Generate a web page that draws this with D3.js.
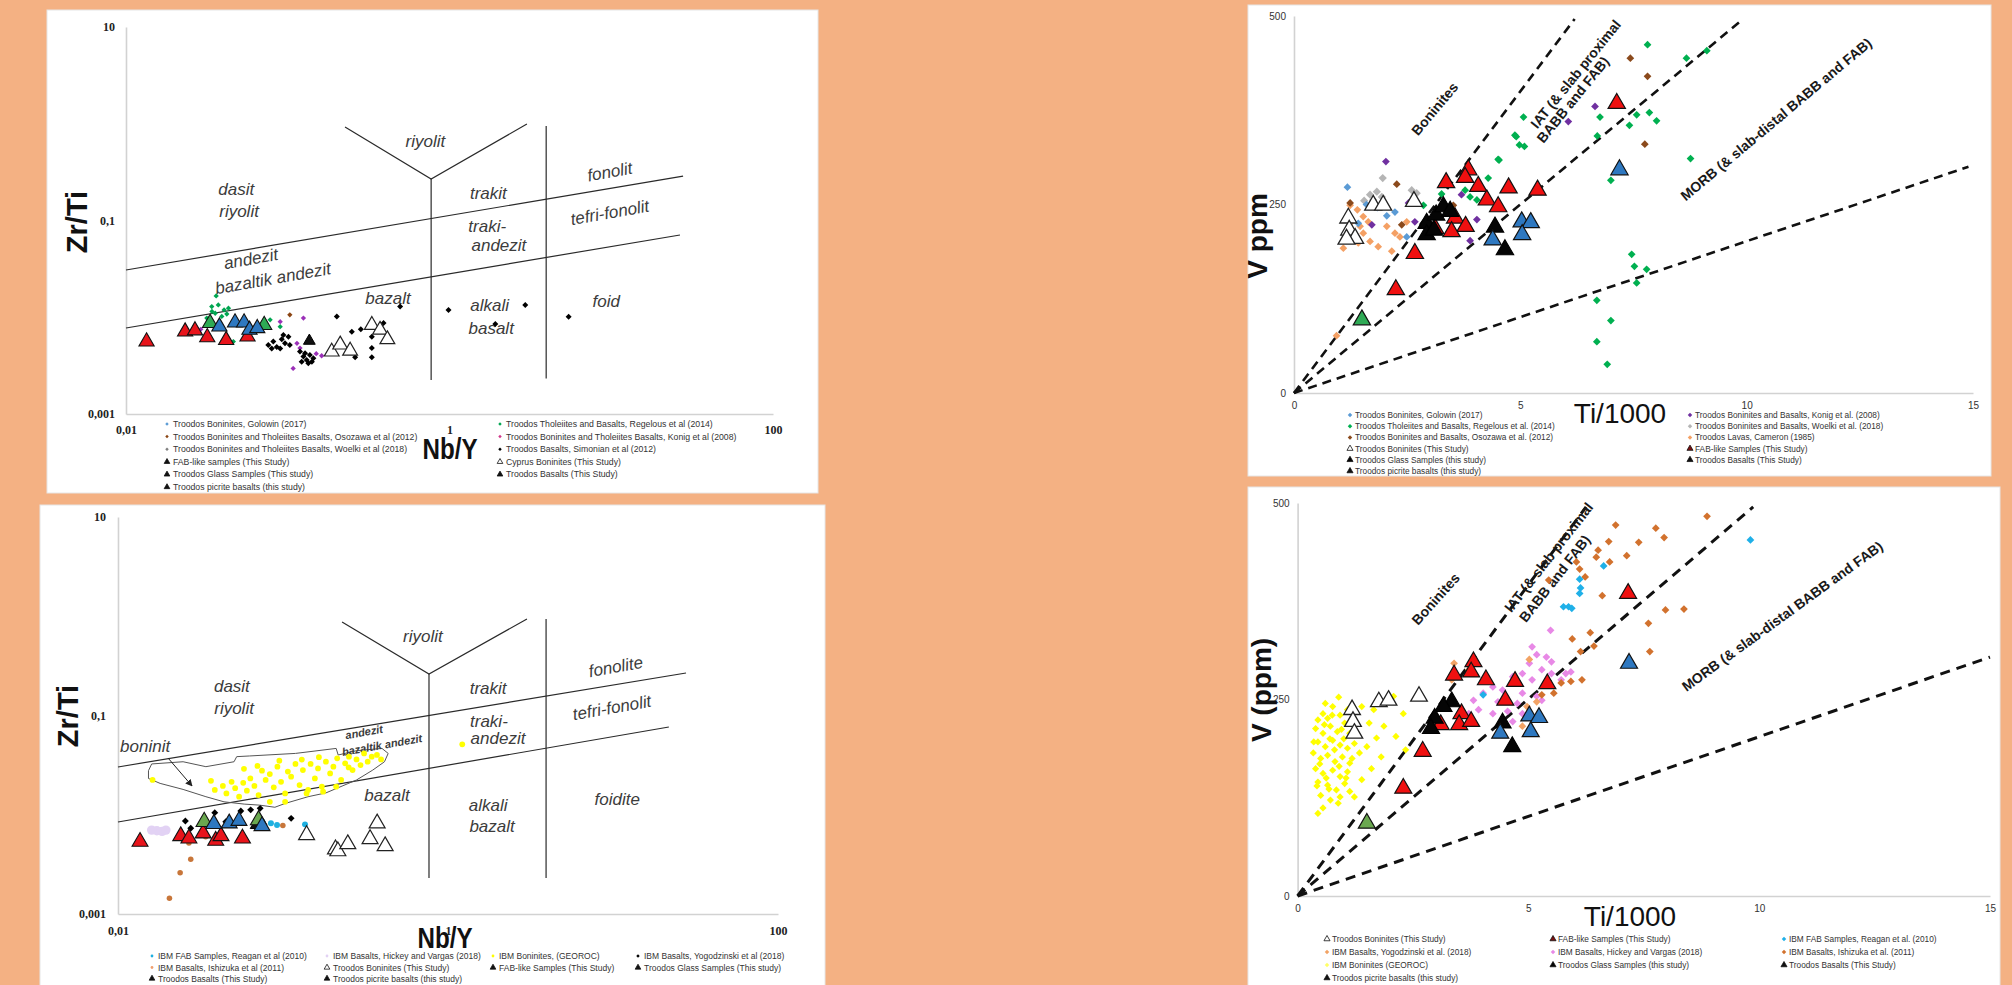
<!DOCTYPE html>
<html><head><meta charset="utf-8">
<script src="https://cdn.jsdelivr.net/npm/d3@7"></script>
<style>body{margin:0;background:#F4B183;}svg{display:block}</style>
</head><body>
<script>
// ================= DATA =================
// ---- Panel A (top-left): Zr/Ti vs Nb/Y ----
const p1XTicks = [0.01, 1, 100];
const p1XTickLabels = ["0,01", "1", "100"];
const p1YTicks = [0.001, 0.1, 10];
const p1YTickLabels = ["0,001", "0,1", "10"];
const p1Fields = [
  [[0.01,0.0308],[27.8,0.288]],
  [[0.01,0.00774],[26.6,0.0708]],
  [[0.226,0.925],[0.77,0.268],[3.01,0.993]],
  [[0.77,0.268],[0.77,0.00224]],
  [[3.96,0.948],[3.96,0.00233]]
];
const p1Notes = [
  {t:"riyolit",x:0.71,y:0.65},{t:"dasit",x:0.048,y:0.207},{t:"riyolit",x:0.050,y:0.125},
  {t:"trakit",x:1.74,y:0.192},{t:"fonolit",x:9.8,y:0.317},{t:"traki-",x:1.71,y:0.0877},
  {t:"andezit",x:2.02,y:0.0558},{t:"tefri-fonolit",x:9.8,y:0.120},{t:"andezit",x:0.0593,y:0.040},
  {t:"bazaltik andezit",x:0.081,y:0.0250},{t:"bazalt",x:0.417,y:0.0155},{t:"alkali",x:1.77,y:0.0131},
  {t:"basalt",x:1.81,y:0.00774},{t:"foid",x:9.3,y:0.0144}
];
const p1Golowin = [];
const p1Osozawa = [[0.103,0.0106]];
const p1Woelki = [];
const p1Regelous = [[0.0361,0.0166],[0.0339,0.0129],[0.0372,0.0134],[0.0404,0.0119],[0.0430,0.0124],[0.0356,0.0110],[0.0391,0.0102],[0.0316,0.0098],[0.0461,0.0056],[0.0778,0.0094],[0.0898,0.0080],[0.0340,0.0115],[0.0420,0.0108]];
const p1Konig = [[0.0898,0.0090],[0.125,0.0098],[0.108,0.00296],[0.162,0.0040],[0.191,0.0048],[0.119,0.0048],[0.114,0.00538],[0.0290,0.0075],[0.150,0.0042]];
const p1Simonian = [[0.0758,0.00518],[0.0814,0.0056],[0.0855,0.00493],[0.0918,0.00591],[0.0962,0.00538],[0.101,0.0063],[0.103,0.00518],[0.0898,0.00474],[0.0796,0.00474],[0.094,0.00656],
  [0.119,0.00442],[0.125,0.00392],[0.131,0.00362],[0.137,0.00407],[0.144,0.00377],[0.122,0.00347],[0.134,0.00334],[0.128,0.00425],[0.141,0.00347],
  [0.201,0.0102],[0.249,0.0071],[0.283,0.0075],[0.331,0.0063],[0.331,0.0048],[0.331,0.00385],[0.261,0.00385],[0.391,0.0087],[0.495,0.0129],[0.986,0.0119],[2.94,0.0134],[1.92,0.0085],[5.45,0.0101]];
const p1FAB = [[0.0134,0.0056],[0.0232,0.0071],[0.0267,0.0073],[0.0318,0.0062],[0.0416,0.0058],[0.0564,0.0063]];
const p1Picrite = [[0.0331,0.0087],[0.0715,0.0083]];
const p1Basalts = [[0.0378,0.0080],[0.0472,0.0088],[0.0537,0.0088],[0.0580,0.0074],[0.0648,0.0077]];
const p1Glass = [[0.136,0.0057]];
const p1Cyprus = [[0.187,0.0044],[0.211,0.0052],[0.243,0.0045],[0.331,0.0083],[0.372,0.0074],[0.413,0.0059]];

// ---- Panel C (bottom-left): Zr/Ti vs Nb/Y, IBM ----
const p3XTicks = [0.01, 1, 100];
const p3XTickLabels = ["0,01", "1", "100"];
const p3YTicks = [0.001, 0.1, 10];
const p3YTickLabels = ["0,001", "0,1", "10"];
const p3Fields = [
  [[0.01,0.0303],[27.7,0.268]],
  [[0.01,0.00845],[21.8,0.0766]],
  [[0.228,0.875],[0.767,0.262],[3.01,0.938]],
  [[0.767,0.262],[0.767,0.00231]],
  [[3.93,0.938],[3.93,0.00231]]
];
const p3BoniniteField = [[0.0153,0.0278],[0.0160,0.0325],[0.0248,0.0342],[0.0341,0.0305],[0.0505,0.0342],[0.0524,0.0385],[0.0625,0.0391],[0.119,0.0415],[0.210,0.0466],[0.216,0.0400],[0.279,0.0442],[0.398,0.0466],[0.434,0.0415],[0.412,0.0342],[0.350,0.0282],[0.279,0.0224],[0.182,0.0166],[0.142,0.0152],[0.103,0.0130],[0.0893,0.0119],[0.0721,0.0125],[0.0582,0.0128],[0.0439,0.0135],[0.0341,0.0152],[0.0248,0.0180],[0.0180,0.0207],[0.0153,0.0232]];
const p3Arrow = [[0.0201,0.0373],[0.0281,0.0195]];
const p3Notes = [
  {t:"riyolit",x:0.705,y:0.618},{t:"dasit",x:0.049,y:0.194},{t:"riyolit",x:0.0505,y:0.119},
  {t:"trakit",x:1.75,y:0.189},{t:"fonolite",x:10.4,y:0.308},{t:"traki-",x:1.77,y:0.0861},
  {t:"andezit",x:2.01,y:0.0593},{t:"tefri-fonolit",x:9.86,y:0.119},{t:"boninit",x:0.0146,y:0.0482},
  {t:"bazalt",x:0.427,y:0.0155},{t:"alkali",x:1.75,y:0.0125},{t:"bazalt",x:1.85,y:0.0077},
  {t:"foidite",x:10.6,y:0.0144}
];
const p3SmallNotes = [{t:"andezit",x:0.31,y:0.0682},{t:"bazaltik andezit",x:0.398,y:0.0505}];
const p3Reagan = [[0.0845,0.0082],[0.136,0.0080],[0.075,0.0085],[0.092,0.0079]];
const p3Hickey = [[0.0172,0.0069],[0.0160,0.0070],[0.0185,0.0068],[0.0195,0.0070]];
const p3Georoc = [[0.0366,0.0220],[0.0386,0.0178],[0.0432,0.0195],[0.0454,0.0164],[0.0488,0.0215],[0.0513,0.0185],[0.0542,0.0152],[0.0574,0.0210],[0.0604,0.0175],[0.0634,0.0232],[0.0671,0.0195],[0.0711,0.0158],[0.0746,0.0278],[0.0785,0.0224],[0.0832,0.0257],[0.0879,0.0189],[0.0925,0.0305],[0.0973,0.0215],[0.103,0.0164],[0.107,0.0272],[0.112,0.0242],[0.119,0.0325],[0.126,0.0199],[0.132,0.0282],[0.139,0.0164],[0.147,0.0325],[0.156,0.0232],[0.163,0.0293],[0.172,0.0192],[0.182,0.0342],[0.193,0.0261],[0.202,0.0305],[0.213,0.0370],[0.225,0.0224],[0.238,0.0330],[0.251,0.0385],[0.264,0.0282],[0.279,0.0361],[0.295,0.0317],[0.310,0.0415],[0.326,0.0342],[0.345,0.0385],[0.371,0.0400],[0.393,0.0361],[0.0832,0.0135],[0.103,0.0135],[0.142,0.0178],[0.175,0.0171],[0.210,0.0192],[0.0162,0.0224],[1.22,0.0512],[0.0700,0.0310],[0.0950,0.0350],[0.130,0.0360],[0.165,0.0380],[0.058,0.0290],[0.250,0.0300]];
const p3Yogodzinski = [[0.0256,0.00865],[0.0386,0.0105],[0.0555,0.0109],[0.0637,0.0112],[0.0727,0.0116],[0.112,0.0092],[0.0276,0.0073],[0.045,0.0085]];
const p3Ishizuka = [[0.0998,0.0078],[0.0276,0.00356],[0.0238,0.0026],[0.0205,0.00144],[0.0269,0.0052],[0.0340,0.0060]];
const p3FAB = [[0.0136,0.00535],[0.0240,0.0061],[0.0269,0.00578],[0.0328,0.0065],[0.0391,0.00548],[0.0421,0.0061],[0.0568,0.00578]];
const p3Picrite = [[0.0333,0.0085],[0.0711,0.00885]];
const p3Basalts = [[0.0381,0.0081],[0.0472,0.0082],[0.0541,0.0087],[0.0746,0.0077]];
const p3Glass = [[0.070,0.0080]];
const p3Boninites = [[0.139,0.00625],[0.208,0.00449],[0.215,0.0043],[0.247,0.00507],[0.337,0.0057],[0.372,0.0082],[0.416,0.00484]];

// ---- Panel B (top-right): V vs Ti/1000, Troodos ----
const p2XTicks = [0, 5, 10, 15];
const p2YTicks = [0, 250, 500];
const p2Lines = [[[0,0],[6.2,496]],[[0,0],[9.9,495]],[[0,0],[14.9,300]]];
const p2Notes = [
  {t:"Boninites",x:3.11,y:377},{t:"IAT (& slab proximal",x:6.22,y:423},
  {t:"BABB and FAB)",x:6.16,y:389},{t:"MORB (& slab-distal BABB and FAB)",x:10.65,y:363}
];
const p2Golowin = [[1.18,273],[2.23,240],[2.49,207],[1.84,246],[1.42,225],[1.60,250],[2.05,235]];
const p2Regelous = [[5.07,366],[4.88,342],[4.98,329],[4.51,310],[4.29,285],[4.04,256],[3.89,260],[3.78,269],[3.26,264],[2.86,249],[6.76,366],[6.70,341],[7.41,355],[7.57,369],[7.85,372],[8.01,361],[8.76,311],[7.00,282],[7.46,184],[7.52,168],[7.79,164],[7.57,146],[6.69,123],[7.00,96],[6.69,68],[7.81,462],[8.67,444],[9.12,454],[6.92,38],[4.91,340],[4.53,309],[5.09,327]];
const p2Osozawa = [[2.27,277],[1.24,252],[2.38,223],[7.75,330],[3.52,249],[7.43,444],[7.81,420]];
const p2Konig = [[2.03,307],[6.06,360],[6.65,380],[3.70,263],[4.04,230],[3.89,202],[2.67,227],[1.72,223],[2.53,252]];
const p2Woelki = [[1.68,263],[1.83,267],[1.94,260],[1.96,285],[2.60,269],[2.71,265],[1.75,256],[1.55,255],[2.65,258]];
const p2Cameron = [[1.24,249],[1.40,243],[1.53,234],[1.64,227],[1.46,221],[1.31,212],[1.13,203],[1.09,192],[1.42,199],[1.68,201],[1.86,194],[2.05,221],[2.23,212],[2.16,188],[2.49,227],[2.34,207],[1.53,212],[1.27,227],[1.38,207],[0.94,76]];
const p2FAB = [[7.13,384],[3.85,296],[3.78,286],[3.36,279],[4.07,274],[4.74,272],[5.38,269],[4.26,256],[4.51,247],[3.56,232],[3.79,221],[3.48,214],[2.67,185],[2.25,137],[3.12,218]];
const p2Basalts = [[7.19,296],[5.03,227],[5.23,226],[5.04,210],[4.39,203]];
const p2Glass = [[2.93,225],[3.14,236],[3.30,247],[3.45,241],[2.93,210],[3.09,216],[4.44,220],[4.66,190]];
const p2Picrite = [[1.50,97]];
const p2Boninites = [[1.20,232],[1.22,216],[1.35,205],[1.16,204],[1.75,249],[1.97,249],[2.65,254]];

// ---- Panel D (bottom-right): V vs Ti/1000, IBM ----
const p4XTicks = [0, 5, 10, 15];
const p4YTicks = [0, 250, 500];
const p4Lines = [[[0,0],[6.25,495]],[[0,0],[9.87,495]],[[0,0],[15,304]]];
const p4Notes = [
  {t:"Boninites",x:2.99,y:378},{t:"IAT (& slab proximal",x:5.44,y:431},
  {t:"BABB and FAB)",x:5.57,y:404},{t:"MORB (& slab-distal BABB and FAB)",x:10.50,y:356}
];
const p4Georoc = [[0.89,253],[0.76,241],[0.55,232],[0.44,224],[0.65,226],[0.92,230],[1.08,237],[0.39,213],[0.55,207],[0.71,216],[0.86,209],[1.02,220],[1.13,207],[0.44,196],[0.60,190],[0.76,198],[0.92,192],[1.08,188],[1.23,194],[0.34,182],[0.50,175],[0.65,179],[0.81,171],[0.97,177],[1.13,169],[0.39,162],[0.55,156],[0.76,160],[0.92,152],[1.08,158],[0.44,145],[0.65,141],[0.84,135],[1.02,143],[0.50,128],[0.71,122],[0.92,126],[0.55,112],[0.44,105],[1.13,133],[1.34,182],[1.50,190],[1.71,201],[1.87,216],[2.13,203],[2.29,232],[1.55,220],[1.65,237],[1.39,241],[1.81,177],[1.60,162],[1.39,148],[1.23,126],[2.08,254],[2.34,186],[0.60,245],[0.70,200],[0.80,186],[0.48,168],[0.62,150],[0.90,165],[1.00,200],[0.58,218],[0.35,196],[0.75,230],[1.05,150],[0.68,136],[0.95,212],[1.18,175],[0.42,140],[0.88,118]];
const p4Hickey = [[5.48,338],[5.18,307],[5.39,304],[5.50,298],[5.02,296],[5.29,288],[4.87,283],[4.66,279],[5.08,275],[5.50,283],[5.81,283],[4.23,266],[4.44,262],[4.87,258],[5.18,254],[4.02,258],[3.81,249],[4.34,247],[4.76,245],[5.29,249],[3.92,237],[4.55,235],[4.87,232],[3.71,232],[4.66,222],[4.23,232],[5.71,275],[5.92,285],[5.08,317]];
const p4Ishizuka = [[8.87,483],[6.89,472],[7.76,468],[7.94,456],[7.39,450],[6.74,451],[6.51,440],[7.13,433],[6.47,431],[6.76,425],[6.04,425],[6.11,416],[6.23,406],[5.44,402],[6.60,382],[7.97,364],[8.37,365],[7.60,347],[6.34,335],[5.95,327],[6.42,318],[6.13,311],[7.63,311],[6.16,275],[5.92,273],[5.71,271],[5.55,258],[5.29,256]];
const p4Yogodzinski = [[3.39,296],[3.71,288],[3.34,275],[4.87,216],[5.02,301],[5.18,247],[4.97,241]];
const p4Reagan = [[9.81,453],[6.63,420],[6.11,403],[6.11,385],[5.87,368],[5.76,368],[5.94,366],[6.13,392],[4.02,256]];
const p4FAB = [[7.16,385],[3.81,298],[3.39,281],[3.76,285],[4.08,275],[4.71,273],[5.41,270],[4.50,249],[3.55,232],[3.50,218],[3.76,222],[3.10,218],[2.71,184],[2.29,137]];
const p4Picrite = [[1.50,92.5]];
const p4Basalts = [[7.18,296],[5.02,229],[5.23,227],[4.39,207],[5.05,209]];
const p4Glass = [[3.34,247],[3.16,241],[2.97,226],[2.89,213],[4.44,220],[4.65,190]];
const p4Boninites = [[1.18,237],[1.20,222],[1.23,207],[1.76,247],[1.97,249],[2.63,254]];

// ================= DRAWING =================
const W = 2012, H = 985;
const svg = d3.select("body").append("svg").attr("width", W).attr("height", H)
  .style("font-family", "'Liberation Sans', Arial, sans-serif");
svg.append("rect").attr("width", W).attr("height", H).attr("fill", "#F4B183");
const defs = svg.append("defs");
defs.append("marker").attr("id","arr").attr("viewBox","0 0 10 10").attr("refX",9).attr("refY",5)
  .attr("markerWidth",7).attr("markerHeight",7).attr("orient","auto")
  .append("path").attr("d","M0,0L10,5L0,10z").attr("fill","#222");

function shapeType(s){ return (s==="tri"||s==="hollow")?d3.symbolTriangle:(s==="circle"?d3.symbolCircle:d3.symbolSquare); }

function makePanel(cfg){
  svg.append("rect").attr("x",cfg.box[0]).attr("y",cfg.box[1]).attr("width",cfg.box[2]-cfg.box[0])
    .attr("height",cfg.box[3]-cfg.box[1]).attr("fill","#fff").attr("stroke","#e6e6e6");
  const x = (cfg.log?d3.scaleLog():d3.scaleLinear()).domain(cfg.xd).range(cfg.xr);
  const y = (cfg.log?d3.scaleLog():d3.scaleLinear()).domain(cfg.yd).range(cfg.yr);
  const g = svg.append("g");
  const ax = d3.axisBottom(x).tickValues(cfg.xt).tickFormat((d,i)=>cfg.xl[i]).tickSize(0).tickSizeOuter(0).tickPadding(cfg.xpad);
  const ay = d3.axisLeft(y).tickValues(cfg.yt).tickFormat((d,i)=>cfg.yl[i]).tickSize(0).tickSizeOuter(0).tickPadding(cfg.ypad);
  const gx = g.append("g").attr("transform",`translate(0,${cfg.yr[0]})`).call(ax);
  const gy = g.append("g").attr("transform",`translate(${cfg.xr[0]},0)`).call(ay);
  [gx,gy].forEach(a=>{
    a.select(".domain").attr("stroke","#d2d2d2").attr("stroke-width",1.6);
    a.selectAll("text").attr("font-family",cfg.tickFont).attr("font-size",cfg.tickSize)
      .attr("font-weight",cfg.tickWeight).attr("fill",cfg.tickColor);
  });
  return {g,x,y};
}

function drawSeries(P, s){
  const gen = d3.symbol().type(shapeType(s.shape)).size(s.size);
  P.g.append("g").selectAll("path").data(s.data).join("path")
    .attr("d", gen)
    .attr("transform", d=>`translate(${P.x(d[0])},${P.y(d[1])})${s.shape==="diamond"?" rotate(45)":""}`)
    .attr("fill", s.shape==="hollow"?"#fff":s.fill)
    .attr("stroke", s.stroke||"none").attr("stroke-width", s.sw||0);
}

function drawLegend(P, cfg, list){
  list.forEach(s=>{
    const lx = cfg.legCols[s.leg[0]], ly = cfg.legRows[s.leg[1]];
    const isTri = (s.shape==="tri"||s.shape==="hollow");
    const gen = d3.symbol().type(shapeType(s.shape)).size(isTri?cfg.legTri:cfg.legDot);
    P.g.append("path").attr("d", gen())
      .attr("transform",`translate(${lx},${ly})${s.shape==="diamond"?" rotate(45)":""}`)
      .attr("fill", s.shape==="hollow"?"#fff":(s.legFill||s.fill))
      .attr("stroke", isTri?"#111":"none").attr("stroke-width", isTri?0.8:0);
    P.g.append("text").attr("x",lx+cfg.legGap).attr("y",ly).attr("dominant-baseline","central")
      .attr("font-size",cfg.legFont).attr("fill","#333").text(s.label);
  });
}

function drawFields(P, fields, color, width, dash){
  const line = d3.line().x(d=>P.x(d[0])).y(d=>P.y(d[1]));
  P.g.append("g").selectAll("path").data(fields).join("path").attr("d", line)
    .attr("fill","none").attr("stroke",color).attr("stroke-width",width).attr("stroke-dasharray",dash||null);
}

function drawNotes(P, notes, angles, style){
  P.g.append("g").selectAll("text").data(notes).join("text")
    .attr("transform",(d,i)=>`translate(${P.x(d.x)},${P.y(d.y)}) rotate(${angles[i]||0})`)
    .attr("text-anchor","middle").attr("dominant-baseline","central")
    .attr("font-size",style.size).attr("font-style",style.italic?"italic":"normal")
    .attr("font-weight",style.bold?"bold":"normal").attr("fill",style.color).text(d=>d.t);
}

function title(x, y, text, size, weight, rot, len){
  const t = svg.append("text").attr("transform",`translate(${x},${y}) rotate(${rot||0})`)
    .attr("text-anchor","middle").attr("dominant-baseline","central")
    .attr("font-size",size).attr("font-weight",weight).attr("fill","#111").text(text);
  if(len) t.attr("textLength",len).attr("lengthAdjust","spacingAndGlyphs");
}

// ---------- Panel A ----------
const c1 = {box:[47,10,818,493], log:true, xd:[0.01,100], yd:[0.001,10], xr:[126,773], yr:[414,27],
  xt:p1XTicks, xl:p1XTickLabels, yt:p1YTicks, yl:p1YTickLabels, xpad:11, ypad:11,
  tickFont:"'Liberation Serif', serif", tickSize:12, tickWeight:"bold", tickColor:"#222",
  legCols:[167,500], legRows:[424,436.6,449.2,461.8,474.4,487], legGap:6, legFont:8.7, legTri:14, legDot:6};
const P1 = makePanel(c1);
drawFields(P1, p1Fields, "#2a2a2a", 1.2);
drawNotes(P1, p1Notes, [0,0,0,0,-10,0,0,-10,-10,-10,0,0,0,0], {size:17, italic:true, color:"#3c3c3c"});
const s1 = [
  {label:"Troodos Boninites, Golowin (2017)", data:p1Golowin, shape:"diamond", fill:"#5B9BD5", size:12, leg:[0,0]},
  {label:"Troodos Boninites and Tholeiites Basalts, Osozawa et al (2012)", data:p1Osozawa, shape:"diamond", fill:"#8B4513", size:14, leg:[0,1]},
  {label:"Troodos Boninites and Tholeiites Basalts, Woelki et al (2018)", data:p1Woelki, shape:"diamond", fill:"#7f7f7f", size:12, leg:[0,2]},
  {label:"Troodos Tholeiites and Basalts, Regelous et al (2014)", data:p1Regelous, shape:"diamond", fill:"#00A651", size:14, leg:[1,0]},
  {label:"Troodos Boninites and Tholeiites Basalts, Konig et al (2008)", data:p1Konig, shape:"diamond", fill:"#9B30B8", size:14, leg:[1,1], legFill:"#D0388A"},
  {label:"Troodos Basalts, Simonian et al (2012)", data:p1Simonian, shape:"diamond", fill:"#000", size:18, leg:[1,2]},
  {label:"Cyprus Boninites  (This Study)", data:p1Cyprus, shape:"hollow", stroke:"#222", sw:1.2, size:95, leg:[1,3]},
  {label:"Troodos Glass Samples (This study)", data:p1Glass, shape:"tri", fill:"#111", stroke:"#000", sw:1, size:60, leg:[0,4]},
  {label:"FAB-like samples (This Study)", data:p1FAB, shape:"tri", fill:"#E8141B", stroke:"#111", sw:1.1, size:100, leg:[0,3], legFill:"#111"},
  {label:"Troodos picrite basalts (this study)", data:p1Picrite, shape:"tri", fill:"#2EAA55", stroke:"#111", sw:1.1, size:100, leg:[0,5], legFill:"#111"},
  {label:"Troodos Basalts (This Study)", data:p1Basalts, shape:"tri", fill:"#2E78C0", stroke:"#111", sw:1.1, size:100, leg:[1,4], legFill:"#111"}
];
s1.forEach(s=>drawSeries(P1,s));
drawLegend(P1, c1, s1);
title(77, 222, "Zr/Ti", 29, "bold", -90);
title(450, 449, "Nb/Y", 29, "bold", 0, 55);

// ---------- Panel C ----------
const c3 = {box:[40,505,825,990], log:true, xd:[0.01,100], yd:[0.001,10], xr:[118,778], yr:[914,517],
  xt:p3XTicks, xl:p3XTickLabels, yt:p3YTicks, yl:p3YTickLabels, xpad:12, ypad:12,
  tickFont:"'Liberation Serif', serif", tickSize:12, tickWeight:"bold", tickColor:"#222",
  legCols:[152,327,493,638], legRows:[956,967.5,978.5], legGap:6, legFont:8.5, legTri:14, legDot:6};
const P3 = makePanel(c3);
drawFields(P3, p3Fields, "#2a2a2a", 1.2);
P3.g.append("path").datum(p3BoniniteField)
  .attr("d", d3.line().x(d=>P3.x(d[0])).y(d=>P3.y(d[1])).curve(d3.curveLinearClosed))
  .attr("fill","none").attr("stroke","#555").attr("stroke-width",1);
drawNotes(P3, p3Notes, [0,0,0,0,-10,0,0,-10,0,0,0,0,0], {size:17, italic:true, color:"#3c3c3c"});
drawNotes(P3, p3SmallNotes, [-10,-10], {size:11, italic:true, bold:true, color:"#3c3c3c"});
P3.g.append("path").datum(p3Arrow).attr("d", d3.line().x(d=>P3.x(d[0])).y(d=>P3.y(d[1])))
  .attr("stroke","#222").attr("stroke-width",1).attr("marker-end","url(#arr)");
const s3 = [
  {label:"IBM Boninites, (GEOROC)", data:p3Georoc, shape:"circle", fill:"#FFFF00", size:26, leg:[2,0]},
  {label:"IBM Basalts, Hickey and Vargas (2018)", data:p3Hickey, shape:"circle", fill:"#E2D2F4", size:70, leg:[1,0]},
  {label:"IBM Basalts, Ishizuka et al (2011)", data:p3Ishizuka, shape:"circle", fill:"#C8763A", size:24, leg:[0,1], legFill:"#F0A070"},
  {label:"IBM FAB Samples, Reagan et al (2010)", data:p3Reagan, shape:"circle", fill:"#1FB0E0", size:28, leg:[0,0]},
  {label:"IBM Basalts, Yogodzinski et al (2018)", data:p3Yogodzinski, shape:"diamond", fill:"#000", size:24, leg:[3,0]},
  {label:"Troodos Boninites (This Study)", data:p3Boninites, shape:"hollow", stroke:"#222", sw:1.2, size:110, leg:[1,1]},
  {label:"Troodos Glass Samples (This study)", data:p3Glass, shape:"tri", fill:"#111", stroke:"#000", sw:1, size:90, leg:[3,1]},
  {label:"FAB-like Samples (This Study)", data:p3FAB, shape:"tri", fill:"#E8141B", stroke:"#111", sw:1.1, size:110, leg:[2,1], legFill:"#111"},
  {label:"Troodos picrite basalts (this study)", data:p3Picrite, shape:"tri", fill:"#6AA84F", stroke:"#111", sw:1.1, size:115, leg:[1,2], legFill:"#111"},
  {label:"Troodos Basalts (This Study)", data:p3Basalts, shape:"tri", fill:"#2E78C0", stroke:"#111", sw:1.1, size:110, leg:[0,2], legFill:"#111"}
];
s3.forEach(s=>drawSeries(P3,s));
drawLegend(P3, c3, s3);
title(68, 716, "Zr/Ti", 29, "bold", -90);
title(445, 938, "Nb/Y", 29, "bold", 0, 55);

// ---------- Panel B ----------
const c2 = {box:[1248,5,1991,476], log:false, xd:[0,15], yd:[0,500], xr:[1294,1973], yr:[393,16],
  xt:p2XTicks, xl:p2XTicks.map(String), yt:p2YTicks, yl:p2YTicks.map(String), xpad:9, ypad:8,
  tickFont:"'Liberation Sans', sans-serif", tickSize:10, tickWeight:"normal", tickColor:"#333",
  legCols:[1350,1690], legRows:[415,426.2,437.4,448.6,459.8,471], legGap:5, legFont:8.3, legTri:16, legDot:10};
const P2 = makePanel(c2);
drawFields(P2, p2Lines, "#111", 2.6, "9,6");
drawNotes(P2, p2Notes, [-50,-51,-51,-40], {size:14, bold:true, color:"#1a1a1a"});
const s2 = [
  {label:"Troodos Lavas, Cameron (1985)", data:p2Cameron, shape:"diamond", fill:"#F4A064", size:30, leg:[1,2]},
  {label:"Troodos Boninites and Basalts, Woelki et al. (2018)", data:p2Woelki, shape:"diamond", fill:"#B5B5B5", size:34, leg:[1,1]},
  {label:"Troodos Boninites, Golowin (2017)", data:p2Golowin, shape:"diamond", fill:"#5B9BD5", size:30, leg:[0,0]},
  {label:"Troodos Boninites and  Basalts, Osozawa et al. (2012)", data:p2Osozawa, shape:"diamond", fill:"#8B4A1C", size:30, leg:[0,2]},
  {label:"Troodos Boninites and Basalts, Konig et al. (2008)", data:p2Konig, shape:"diamond", fill:"#7030A0", size:30, leg:[1,0]},
  {label:"Troodos Tholeiites and Basalts, Regelous et al. (2014)", data:p2Regelous, shape:"diamond", fill:"#00B050", size:30, leg:[0,1]},
  {label:"Troodos Boninites (This Study)", data:p2Boninites, shape:"hollow", stroke:"#222", sw:1.3, size:125, leg:[0,3]},
  {label:"Troodos picrite basalts (this study)", data:p2Picrite, shape:"tri", fill:"#2EAA55", stroke:"#111", sw:1.2, size:130, leg:[0,5], legFill:"#111"},
  {label:"FAB-like Samples (This Study)", data:p2FAB, shape:"tri", fill:"#F01010", stroke:"#111", sw:1.2, size:130, leg:[1,3], legFill:"#7a1010"},
  {label:"Troodos Glass Samples (this study)", data:p2Glass, shape:"tri", fill:"#050505", stroke:"#000", sw:1.2, size:130, leg:[0,4]},
  {label:"Troodos Basalts (This Study)", data:p2Basalts, shape:"tri", fill:"#2E78C0", stroke:"#111", sw:1.2, size:130, leg:[1,4], legFill:"#111"}
];
s2.forEach(s=>drawSeries(P2,s));
drawLegend(P2, c2, s2);
title(1257, 236, "V ppm", 28, "bold", -90);
title(1620, 413, "Ti/1000", 28, "normal", 0);

// ---------- Panel D ----------
const c4 = {box:[1248,487,2000,990], log:false, xd:[0,15], yd:[0,500], xr:[1297.6,1990], yr:[896,503],
  xt:p4XTicks, xl:p4XTicks.map(String), yt:p4YTicks, yl:p4YTicks.map(String), xpad:9, ypad:8,
  tickFont:"'Liberation Sans', sans-serif", tickSize:10, tickWeight:"normal", tickColor:"#333",
  legCols:[1327,1553,1784], legRows:[939,952,965,978], legGap:5, legFont:8.3, legTri:16, legDot:10};
const P4 = makePanel(c4);
drawFields(P4, p4Lines, "#111", 3, "10,7");
drawNotes(P4, p4Notes, [-48,-52,-52,-36], {size:14, bold:true, color:"#1a1a1a"});
const s4 = [
  {label:"IBM Boninites (GEOROC)", data:p4Georoc, shape:"diamond", fill:"#FFFF00", size:26, leg:[0,2], legFill:"#FFFF66"},
  {label:"IBM Basalts, Hickey and Vargas (2018)", data:p4Hickey, shape:"diamond", fill:"#E889E6", size:30, leg:[1,1]},
  {label:"IBM Basalts, Ishizuka et al. (2011)", data:p4Ishizuka, shape:"diamond", fill:"#D2722E", size:30, leg:[2,1]},
  {label:"IBM Basalts, Yogodzinski et al. (2018)", data:p4Yogodzinski, shape:"diamond", fill:"#F2A365", size:30, leg:[0,1]},
  {label:"IBM FAB Samples, Reagan et al. (2010)", data:p4Reagan, shape:"diamond", fill:"#1FB0E8", size:30, leg:[2,0]},
  {label:"Troodos Boninites (This Study)", data:p4Boninites, shape:"hollow", stroke:"#222", sw:1.3, size:120, leg:[0,0]},
  {label:"Troodos picrite basalts (this study)", data:p4Picrite, shape:"tri", fill:"#6AA84F", stroke:"#111", sw:1.2, size:125, leg:[0,3], legFill:"#111"},
  {label:"FAB-like Samples (This Study)", data:p4FAB, shape:"tri", fill:"#F01010", stroke:"#111", sw:1.2, size:125, leg:[1,0], legFill:"#7a1010"},
  {label:"Troodos Glass Samples (this study)", data:p4Glass, shape:"tri", fill:"#050505", stroke:"#000", sw:1.2, size:125, leg:[1,2]},
  {label:"Troodos Basalts (This Study)", data:p4Basalts, shape:"tri", fill:"#2E78C0", stroke:"#111", sw:1.2, size:125, leg:[2,2], legFill:"#111"}
];
s4.forEach(s=>drawSeries(P4,s));
drawLegend(P4, c4, s4);
title(1261, 690, "V (ppm)", 28, "bold", -90);
title(1630, 916, "Ti/1000", 28, "normal", 0);
</script>
</body></html>
